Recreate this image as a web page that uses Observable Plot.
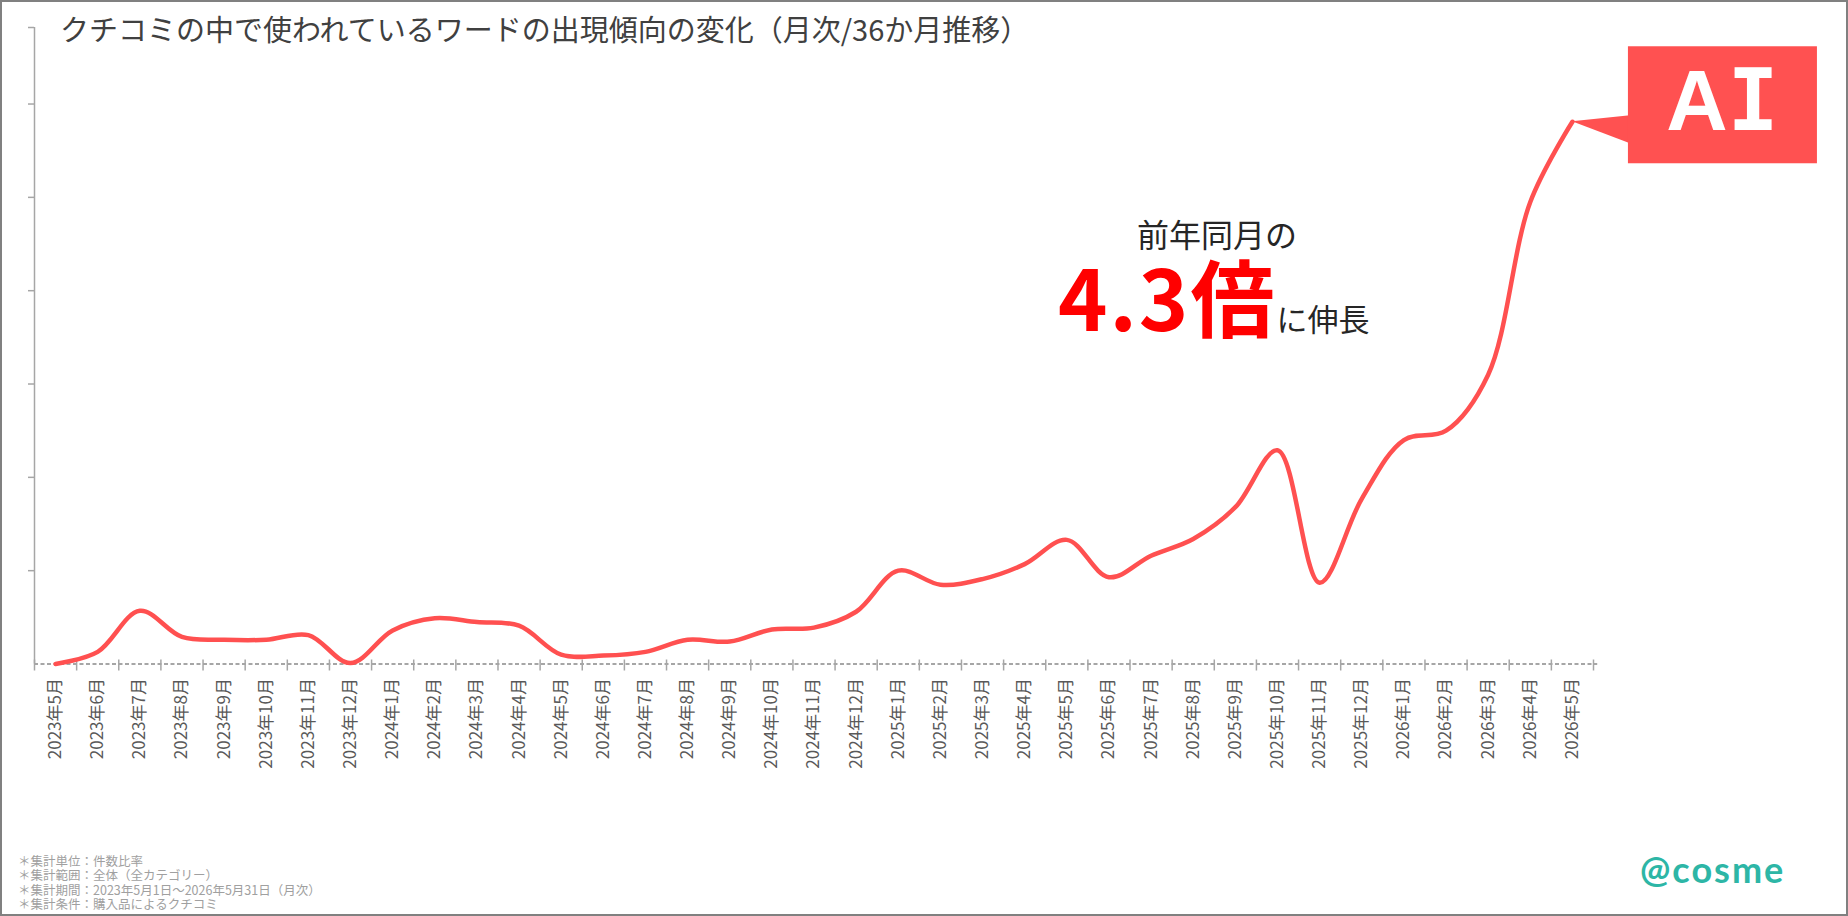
<!DOCTYPE html>
<html>
<head>
<meta charset="utf-8">
<script src="https://cdn.jsdelivr.net/npm/d3@7"></script>
<script src="https://cdn.jsdelivr.net/npm/@observablehq/plot@0.6"></script>
<style>
html,body{margin:0;padding:0;background:#fff;}
#wrap{position:relative;width:1848px;height:916px;overflow:hidden;font-family:"Noto Sans CJK JP","Noto Sans",sans-serif;background:#fff;}
#chart{position:absolute;left:0;top:0;}
#overlay{position:absolute;left:0;top:0;pointer-events:none;}
#border{position:absolute;left:0;top:0;width:1848px;height:916px;box-sizing:border-box;border:2px solid #808080;pointer-events:none;}
</style>
</head>
<body>
<div id="wrap"><div id="chart"></div><svg id="overlay" width="1848" height="916"></svg><div id="border"></div></div>
<script>
// ---- data ----
const months = [
  "2023年5月","2023年6月","2023年7月","2023年8月","2023年9月","2023年10月","2023年11月","2023年12月",
  "2024年1月","2024年2月","2024年3月","2024年4月","2024年5月","2024年6月","2024年7月","2024年8月",
  "2024年9月","2024年10月","2024年11月","2024年12月",
  "2025年1月","2025年2月","2025年3月","2025年4月","2025年5月","2025年6月","2025年7月","2025年8月",
  "2025年9月","2025年10月","2025年11月","2025年12月",
  "2026年1月","2026年2月","2026年3月","2026年4月","2026年5月"
];
const values = [
  0.00, 0.13, 0.57, 0.29, 0.26, 0.26, 0.31, 0.01,
  0.36, 0.49, 0.45, 0.41, 0.10, 0.09, 0.13, 0.26, 0.24, 0.37, 0.39, 0.56,
  1.00, 0.85, 0.91, 1.07, 1.33, 0.93, 1.16, 1.34, 1.68, 2.29, 0.87, 1.77,
  2.40, 2.50, 3.10, 4.95, 5.81
];
const yTicks = [1, 2, 3, 4, 5, 6];
const yMax = 6.82;
const titleText = "クチコミの中で使われているワードの出現傾向の変化（月次/36か月推移）";
const notes = [
  "＊集計単位：件数比率",
  "＊集計範囲：全体（全カテゴリー）",
  "＊集計期間：2023年5月1日～2026年5月31日（月次）",
  "＊集計条件：購入品によるクチコミ"
];
const seriesName = "AI";

const data = values.map((v, i) => ({i, month: months[i], v}));
const boundaries = d3.range(months.length + 1).map(i => i - 0.5);

const plot = Plot.plot({
  width: 1848, height: 916,
  marginLeft: 34, marginRight: 255, marginTop: 27, marginBottom: 252.5,
  style: {background: "transparent", fontFamily: "'Noto Sans CJK JP', sans-serif", fontSize: "17px", color: "#595959", overflow: "visible"},
  x: {type: "linear", domain: [-0.5, months.length - 0.5]},
  y: {domain: [0, yMax]},
  marks: [
    Plot.ruleX([-0.5], {stroke: "#a6a6a6", strokeWidth: 1.5}),
    Plot.axisY({ticks: [...yTicks, yMax], tickSize: 6, tickFormat: () => "", stroke: "#a6a6a6", strokeWidth: 1.5, label: null}),
    Plot.ruleY([0], {x1: -0.5, x2: months.length - 0.4, stroke: "#a6a6a6", strokeWidth: 2, strokeDasharray: "4,2.5"}),
    Plot.axisX({ticks: boundaries, tickSize: 11, dy: -4, tickFormat: () => "", stroke: "#a6a6a6", strokeWidth: 1.5, label: null}),
    Plot.axisX({ticks: d3.range(months.length), tickSize: 0, tickPadding: 14, tickRotate: -90, tickFormat: i => months[i], fill: "#595959", fontSize: 17, label: null}),
    Plot.line(data, {x: "i", y: "v", curve: "catmull-rom", stroke: "#ff5050", strokeWidth: 4.5, strokeLinejoin: "round", strokeLinecap: "round"})
  ]
});
document.getElementById("chart").appendChild(plot);

// ---- overlay texts & callout ----
const sx = plot.scale("x"), sy = plot.scale("y");
const last = data[data.length - 1];
const tipX = sx.apply(last.i), tipY = sy.apply(last.v);
const svg = d3.select("#overlay");
const jp = "'Noto Sans CJK JP', sans-serif";

svg.append("text").attr("x", 60).attr("y", 41).attr("font-family", jp).attr("font-size", 29)
  .attr("fill", "#404040").text(titleText);

// callout box
const bx = tipX + 56, by = tipY - 75, bw = 189, bh = 117;
svg.append("path").attr("d", `M${tipX},${tipY}L${bx + 2},${tipY - 6}L${bx + 2},${tipY + 22}Z`).attr("fill", "#ff5151");
svg.append("rect").attr("x", bx).attr("y", by).attr("width", bw).attr("height", bh).attr("fill", "#ff5151");
const ai = svg.append("text").attr("x", bx + bw / 2).attr("y", by + 84).attr("text-anchor", "middle")
  .attr("fill", "#fff").attr("font-weight", "bold").attr("font-size", 85);
ai.append("tspan").attr("font-family", "'Liberation Sans', Arial, sans-serif").text(seriesName[0]);
ai.append("tspan").attr("font-family", "'DejaVu Sans Mono', monospace").text(seriesName[1]);

// growth annotation
svg.append("text").attr("x", 1217).attr("y", 247).attr("text-anchor", "middle").attr("font-family", jp)
  .attr("font-size", 32).attr("fill", "#262626").text("前年同月の");
const g = svg.append("text").attr("x", 1058).attr("y", 331).attr("font-family", jp);
g.append("tspan").attr("font-size", 84).attr("font-weight", "bold").attr("fill", "#ff0000").attr("letter-spacing", 2).text("4.3倍");
g.append("tspan").attr("font-size", 31).attr("fill", "#262626").attr("dx", 0).text("に伸長");

// footnotes
notes.forEach((t, k) => {
  svg.append("text").attr("x", 18).attr("y", 866 + k * 14.4).attr("font-family", jp).attr("font-size", 12.5)
    .attr("fill", "#a0a0a0").text(t);
});

// logo
svg.append("text").attr("x", 1640).attr("y", 883).attr("font-family", "Lato, sans-serif").attr("font-size", 36)
  .attr("font-weight", "bold").attr("letter-spacing", 2).attr("fill", "#2db6a6").text("@cosme");
</script>
</body>
</html>
